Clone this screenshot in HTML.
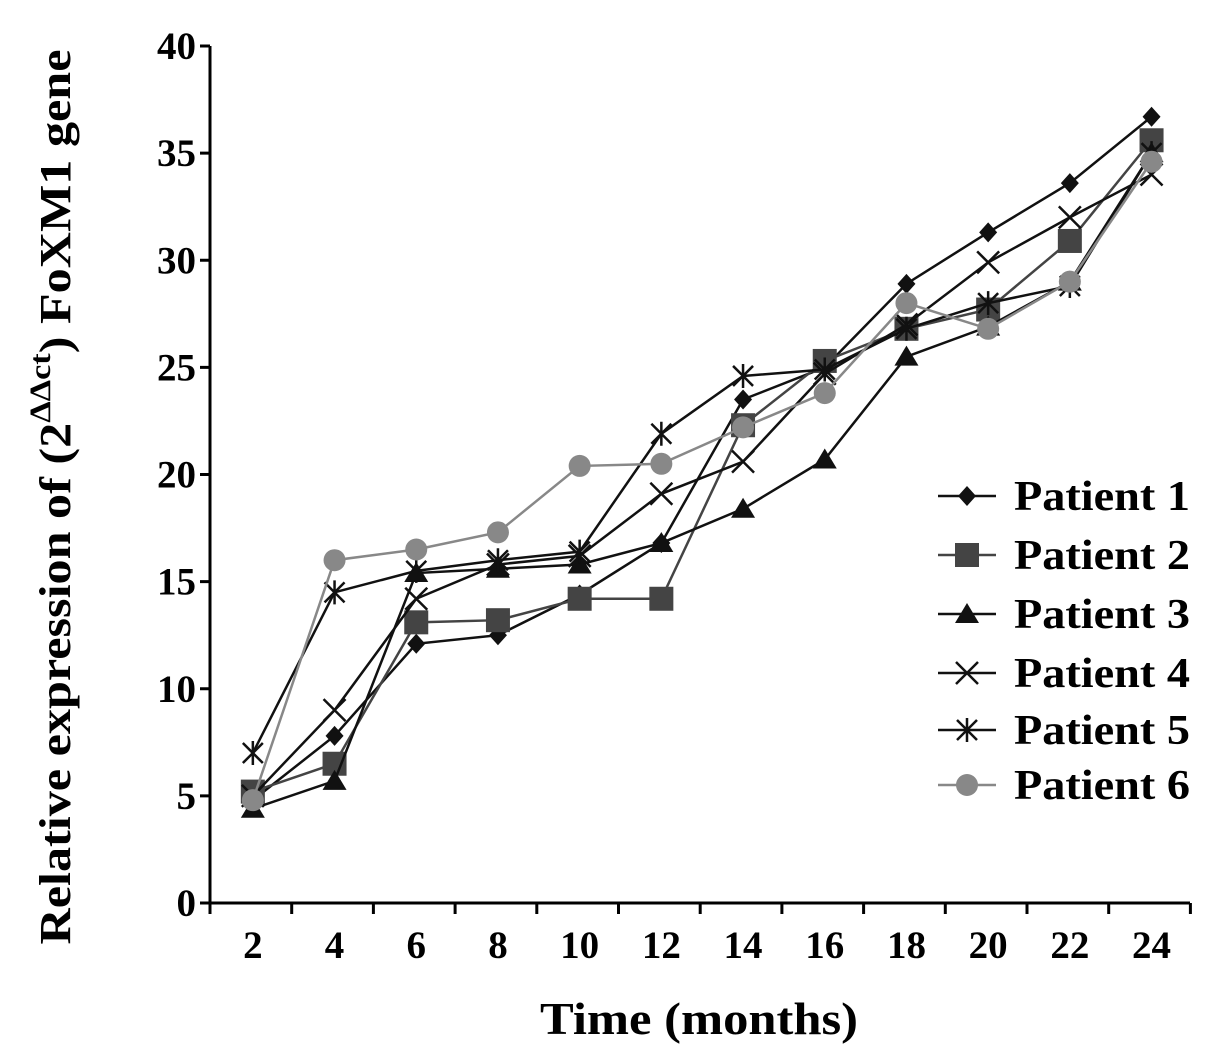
<!DOCTYPE html>
<html><head><meta charset="utf-8"><style>body{margin:0;background:#fff}svg{display:block}text{font-family:"Liberation Serif",serif;font-weight:bold;fill:#000}</style></head>
<body>
<svg id="chart" width="1205" height="1059" viewBox="0 0 1205 1059" xmlns="http://www.w3.org/2000/svg">
<g id="axes"></g><g id="series"></g><g id="legend"></g>
<text x="699" y="1034" font-size="46" text-anchor="middle" textLength="318" lengthAdjust="spacingAndGlyphs">Time (months)</text>
<text transform="translate(70,497) rotate(-90)" font-size="44" text-anchor="middle" textLength="895" lengthAdjust="spacingAndGlyphs">Relative expression of (2<tspan font-size="30" dy="-20">ΔΔct</tspan><tspan dy="20">) FoXM1 gene</tspan></text>
</svg>
<script>
const categories=[2,4,6,8,10,12,14,16,18,20,22,24];
const yTicks=[0,5,10,15,20,25,30,35,40];
const seriesNames=["Patient 1","Patient 2","Patient 3","Patient 4","Patient 5","Patient 6"];
const p1=[4.8,7.8,12.1,12.5,14.4,16.8,23.5,25,28.9,31.3,33.6,36.7];
const p2=[5.2,6.5,13.1,13.2,14.2,14.2,22.3,25.3,26.8,27.7,30.9,35.6];
const p3=[4.4,5.7,15.4,15.6,15.8,16.8,18.4,20.7,25.5,26.9,29,35];
const p4=[5,9,14.2,15.8,16.2,19.1,20.6,24.7,27,29.9,32,34];
const p5=[7,14.5,15.5,16,16.4,21.9,24.6,24.9,26.8,28,28.8,35];
const p6=[4.8,16,16.5,17.3,20.4,20.5,22.2,23.8,28,26.8,29,34.6];
const NS="http://www.w3.org/2000/svg";
const x0=210,x1=1190,y0=903,y1=46,step=81.7;
const X=i=>x0+step/2+i*step+2;
const Y=v=>y0-(v/40)*(y0-y1);
function mk(tag,attrs,parent){const e=document.createElementNS(NS,tag);for(const k in attrs)e.setAttribute(k,attrs[k]);parent.appendChild(e);return e;}
const axes=document.getElementById('axes');
let l=mk('line',{x1:x0,y1:y1,x2:x0,y2:y0,stroke:'#000','stroke-width':3},axes);


l=mk('line',{x1:x0,y1:y0,x2:x1,y2:y0,stroke:'#000','stroke-width':3},axes);


yTicks.forEach(v=>{
 const t=mk('line',{x1:x0-10,y1:Y(v),x2:x0,y2:Y(v),stroke:'#000','stroke-width':3},axes);
 
 
 const tx=mk('text',{x:x0-14,y:Y(v)+13,'font-size':39,'text-anchor':'end'},axes);tx.textContent=v;
 
 
});
for(let i=0;i<=categories.length;i++){
 const t=mk('line',{x1:x0+i*step,y1:y0,x2:x0+i*step,y2:y0+11,stroke:'#000','stroke-width':3},axes);
 
 
}
categories.forEach((c,i)=>{
 const tx=mk('text',{x:X(i),y:y0+55,'font-size':39,'text-anchor':'middle'},axes);tx.textContent=c;
 
 
});
const colors=['#111','#444','#111','#111','#111','#888'];
const shapes=['diamond','square','triangle','x','star','circle'];
function marker(shape,cx,cy,col,g){
 let e;
 if(shape==='diamond')e=mk('path',{d:`M${cx} ${cy-10}L${cx+9} ${cy}L${cx} ${cy+10}L${cx-9} ${cy}Z`,fill:col},g);
 else if(shape==='square')e=mk('rect',{x:cx-12,y:cy-12,width:24,height:24,fill:col},g);
 else if(shape==='triangle')e=mk('path',{d:`M${cx} ${cy-11}L${cx+12} ${cy+9}L${cx-12} ${cy+9}Z`,fill:col},g);
 else if(shape==='x')e=mk('path',{d:`M${cx-11} ${cy-11}L${cx+11} ${cy+11}M${cx+11} ${cy-11}L${cx-11} ${cy+11}`,stroke:col,'stroke-width':2.5},g);
 else if(shape==='star')e=mk('path',{d:`M${cx-10} ${cy-10}L${cx+10} ${cy+10}M${cx+10} ${cy-10}L${cx-10} ${cy+10}M${cx} ${cy-12}L${cx} ${cy+12}`,stroke:col,'stroke-width':2.5},g);
 else e=mk('circle',{cx:cx,cy:cy,r:11,fill:col},g);
 return e;
}
const allSeries=[p1,p2,p3,p4,p5,p6];
const sg=document.getElementById('series');
allSeries.forEach((data,s)=>{
 const g=mk('g',{},sg);
 
 
 const pl=mk('polyline',{points:data.map((v,i)=>X(i)+','+Y(v)).join(' '),fill:'none',stroke:colors[s],'stroke-width':2.5},g);
 
 
 data.forEach((v,i)=>{
  const m=marker(shapes[s],X(i),Y(v),colors[s],g);
  
  
 });
});
const lg=document.getElementById('legend');


const legY=[496,555,614,673,730,785];
seriesNames.forEach((n,s)=>{
 const g=mk('g',{},lg);
 
 
 mk('line',{x1:938,y1:legY[s],x2:996,y2:legY[s],stroke:colors[s],'stroke-width':2.5},g);
 marker(shapes[s],967,legY[s],colors[s],g);
 const t=mk('text',{x:1014,y:legY[s]+14,'font-size':42,textLength:176,lengthAdjust:'spacingAndGlyphs'},g);t.textContent=n;
});
</script>
</body></html>
